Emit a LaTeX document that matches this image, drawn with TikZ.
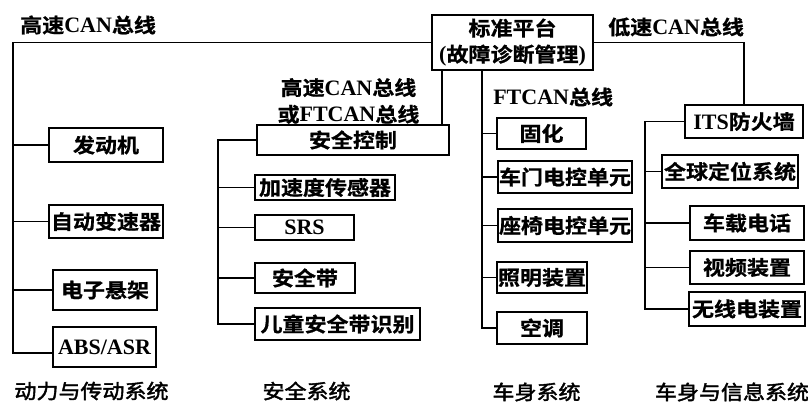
\documentclass[tikz,border=0pt]{standalone}
\usepackage{fontspec}
\setmainfont{Liberation Serif}
\newfontfamily\zhb{Noto Sans CJK SC Bold}[FakeStretch=1.1,FakeBold=0.8,BoldFont={Noto Sans CJK SC Bold}]
\newfontfamily\zhr{Noto Sans CJK SC}[FakeStretch=1.1,FakeBold=2]
\newcommand\zb[1]{{\zhb\fontsize{15}{19.5}\selectfont #1}}
\newcommand\zr[1]{{\zhr #1}}
\newcommand\bxfont{\fontsize{16.5}{19.5}\selectfont\bfseries}
\begin{document}
\begin{tikzpicture}[x=0.75pt,y=-0.75pt,
  box/.style={draw, line width=1.6pt, inner sep=0pt, font=\bxfont},
  sz/.style 2 args={minimum width=#1*0.75pt, minimum height=#2*0.75pt},
  conn/.style={line width=1pt},
  lbl/.style={inner sep=0pt, font=\bxfont},
  sys/.style={inner sep=0pt, font=\fontsize{15}{19.5}\selectfont}]
\useasboundingbox (0,0) rectangle (808,403);

% central platform
\node[box,sz={161}{55},align=center] (top) at (512.5,42.5)
  {\zb{标准平台}\\\textbf{(}\zb{故障诊断管理}\textbf{)}};

% power train
\node[box,sz={114}{34}] (eng) at (106,145) {\zb{发动机}};
\node[box,sz={114}{33}] (trans) at (106,221.5) {\zb{自动变速器}};
\node[box,sz={104}{40}] (susp) at (105,290) {\zb{电子悬架}};
\node[box,sz={103}{40}] (abs) at (104.5,347) {ABS/ASR};

% safety
\node[box,sz={192}{30}] (sc) at (353,140) {\zb{安全控制}};
\node[box,sz={140}{25}] (acc) at (325,187.5) {\zb{加速度传感器}};
\node[box,sz={99}{25}] (srs) at (304.5,227.5) {SRS};
\node[box,sz={100}{30}] (belt) at (305,278) {\zb{安全带}};
\node[box,sz={165}{32}] (child) at (337.5,324) {\zb{儿童安全带识别}};

% body
\node[box,sz={89}{31}] (fw) at (541.5,133.5) {\zb{固化}};
\node[box,sz={134}{32}] (door) at (565,177) {\zb{车门电控单元}};
\node[box,sz={134}{33}] (seat) at (565,225.5) {\zb{座椅电控单元}};
\node[box,sz={90}{31}] (light) at (542,277.5) {\zb{照明装置}};
\node[box,sz={90}{32}] (ac) at (542,328) {\zb{空调}};

% info
\node[box,sz={118}{33}] (its) at (744,121.5) {ITS\zb{防火墙}};
\node[box,sz={136}{33}] (gps) at (730,171.5) {\zb{全球定位系统}};
\node[box,sz={114}{34}] (phone) at (747,223) {\zb{车载电话}};
\node[box,sz={114}{33}] (video) at (747,267.5) {\zb{视频装置}};
\node[box,sz={116}{34}] (radio) at (747,309) {\zb{无线电装置}};

% bus labels
\node[lbl,anchor=west] (lhs) at (20,25) {\zb{高速}CAN\zb{总线}};
\node[lbl,anchor=west] (lls) at (608,27) {\zb{低速}CAN\zb{总线}};
\node[lbl,align=center,font=\fontsize{16.5}{20}\selectfont\bfseries] (lsafe) at (348.5,101)
  {\zb{高速}CAN\zb{总线}\\\zb{或}FTCAN\zb{总线}};
\node[lbl,anchor=west] (lft) at (493,97) {FTCAN\zb{总线}};

% system labels
\node[sys] (s1) at (91.5,391) {\zr{动力与传动系统}};
\node[sys] (s2) at (306.5,391) {\zr{安全系统}};
\node[sys] (s3) at (536.5,392) {\zr{车身系统}};
\node[sys] (s4) at (732,392) {\zr{车身与信息系统}};

% coordinates for bus trunks
\coordinate (pL) at (13,353);
\coordinate (pS) at (218,324);
\coordinate (xS) at (442,0);
\coordinate (pB) at (482,328);
\coordinate (pI) at (645,309);

% high-speed CAN (power train)
\draw[conn] (top.west) -| (pL) -- (pL -| abs.west);
\draw[conn] (eng.west) -- (eng.west -| pL);
\draw[conn] (trans.west) -- (trans.west -| pL);
\draw[conn] (susp.west) -- (susp.west -| pL);

% safety
\draw[conn] (top.south -| xS) -- (sc.north -| xS);
\draw[conn] (sc.west) -| (pS) -- (child.west);
\draw[conn] (acc.west) -- (acc.west -| pS);
\draw[conn] (srs.west) -- (srs.west -| pS);
\draw[conn] (belt.west) -- (belt.west -| pS);

% body (FTCAN)
\draw[conn] (top.south -| pB) -- (pB) -- (ac.west);
\draw[conn] (fw.west) -- (fw.west -| pB);
\draw[conn] (door.west) -- (door.west -| pB);
\draw[conn] (seat.west) -- (seat.west -| pB);
\draw[conn] (light.west) -- (light.west -| pB);

% low-speed CAN (info)
\draw[conn] (top.east) -| (its.north);
\draw[conn] (its.west) -| (pI) -- (radio.west);
\draw[conn] (gps.west) -- (gps.west -| pI);
\draw[conn] (phone.west) -- (phone.west -| pI);
\draw[conn] (video.west) -- (video.west -| pI);
\end{tikzpicture}
\end{document}
